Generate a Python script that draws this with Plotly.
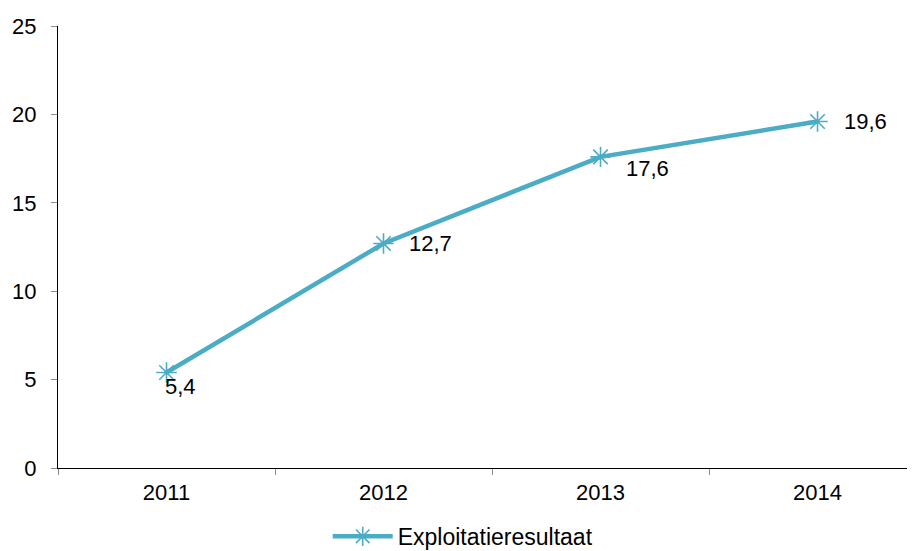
import plotly.graph_objects as go

years = ["2011", "2012", "2013", "2014"]
values = [5.4, 12.7, 17.6, 19.6]
series_name = "Exploitatieresultaat"
y_ticks = [0, 5, 10, 15, 20, 25]

color = "#4BACC6"
family = "Liberation Sans, Arial, sans-serif"
font = dict(family=family, size=22, color="#000000")

fig = go.Figure()
fig.add_trace(go.Scatter(
    x=years, y=values, mode="lines+markers", name=series_name,
    line=dict(color=color, width=4.5),
    marker=dict(symbol="asterisk-open", size=17, color=color,
                line=dict(color=color, width=1.6)),
))

# data label offsets (pixels)
offsets = [(-4, -14), (23, 0), (23, -12), (24, 0)]
annotations = []
for i, (yv, (dx, dy)) in enumerate(zip(values, offsets)):
    annotations.append(dict(x=i, y=yv, xref="x", yref="y",
                            text=f"{yv:.1f}".replace(".", ","),
                            showarrow=False, xanchor="left", yanchor="middle",
                            xshift=dx, yshift=dy,
                            font=dict(family=family, size=22, color="#000000")))

fig.update_layout(
    width=915, height=551,
    margin=dict(l=50, r=0, t=18, b=91, autoexpand=False),
    paper_bgcolor="white", plot_bgcolor="white",
    font=font,
    showlegend=True,
    annotations=annotations,
    legend=dict(orientation="h", x=0.3118, xanchor="left",
                yref="container", y=0.041, yanchor="middle",
                itemwidth=60,
                font=dict(family=family, size=23, color="#000000"),
                bgcolor="rgba(0,0,0,0)"),
    xaxis=dict(type="category", range=[-0.5, 3.486], tickson="boundaries",
               showline=True, linecolor="#000000", linewidth=1.3,
               ticks="outside", ticklen=6, tickcolor="#8c8c8c", tickwidth=1,
               ticklabelstandoff=4,
               showgrid=False, zeroline=False, tickfont=font),
    yaxis=dict(range=[0, 25], tickvals=y_ticks,
               showline=True, linecolor="#000000", linewidth=1.3,
               ticks="outside", ticklen=6, tickcolor="#8c8c8c", tickwidth=1,
               ticklabelstandoff=10,
               showgrid=False, zeroline=False, tickfont=font),
)

fig.write_html("out.html")
